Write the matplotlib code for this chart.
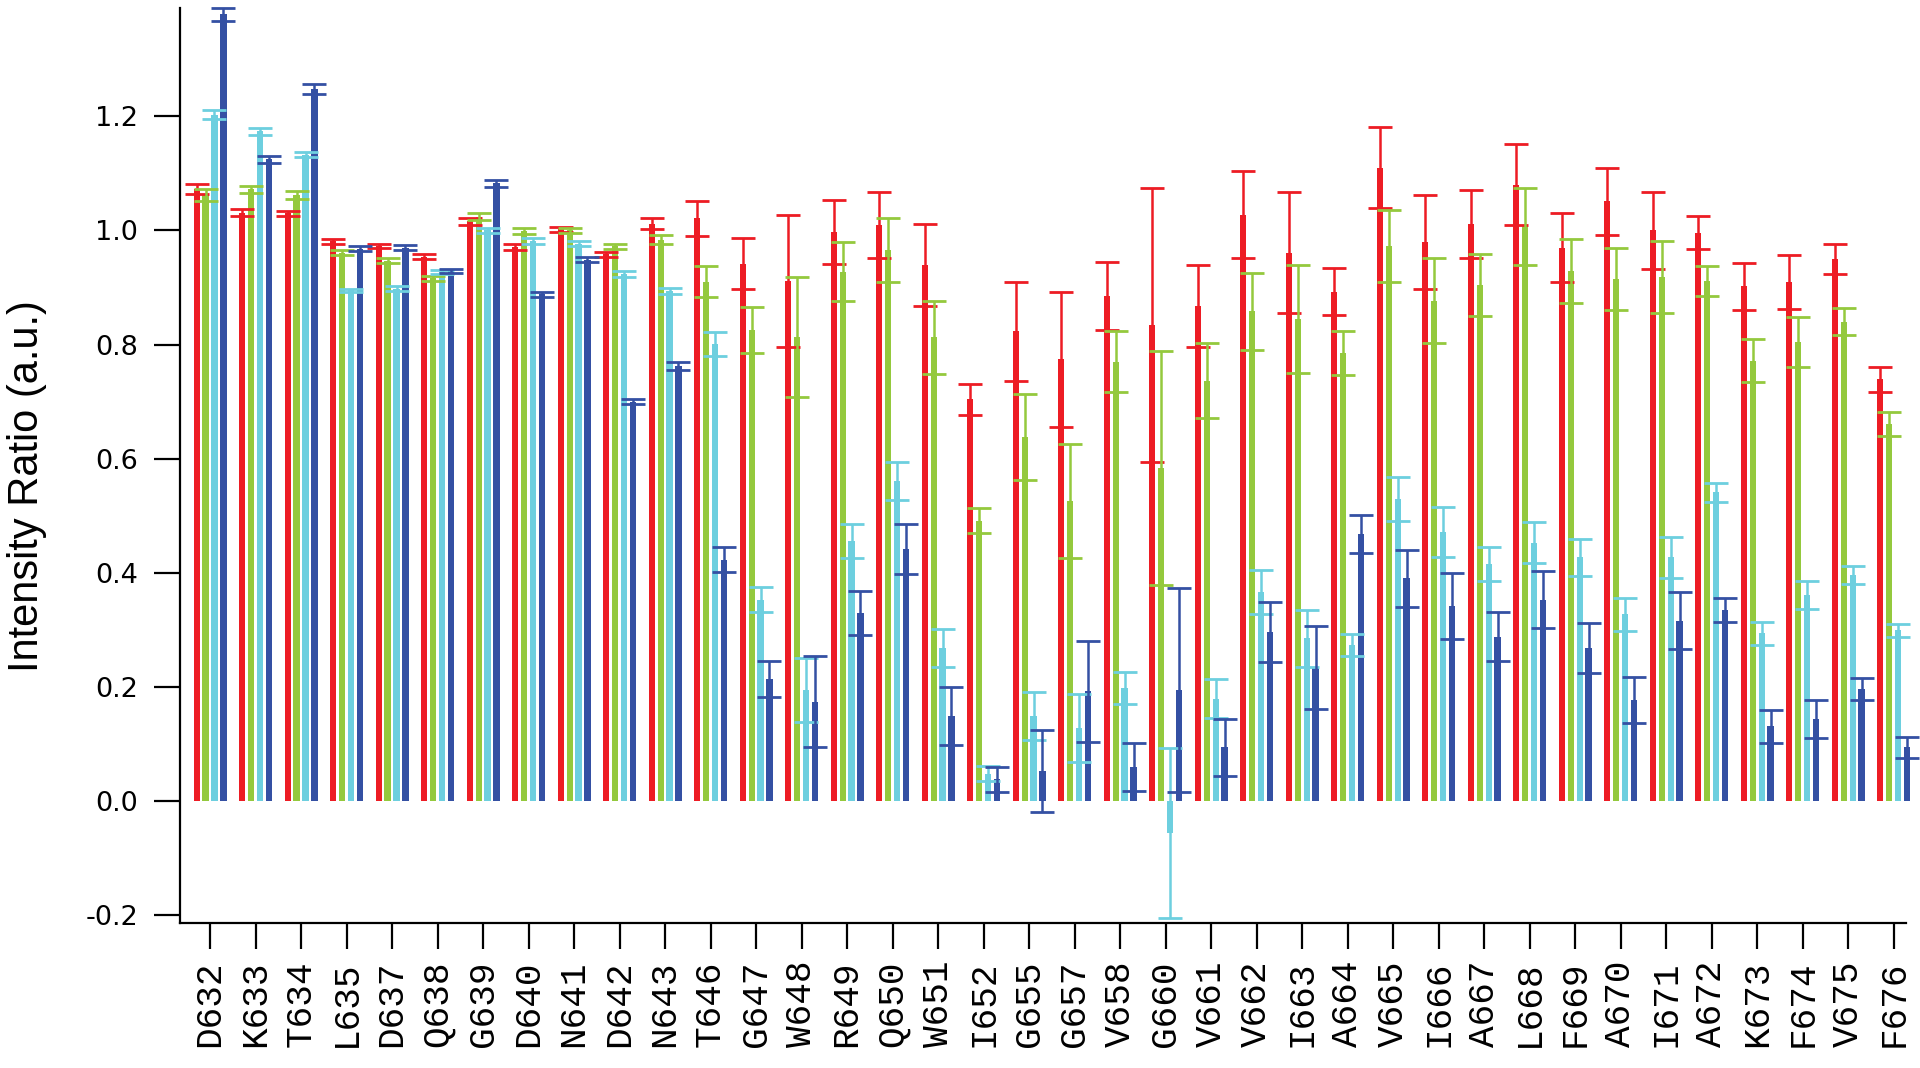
import matplotlib
matplotlib.use("Agg")
import matplotlib.pyplot as plt
import numpy as np

residues = ["D632", "K633", "T634", "L635", "D637", "Q638", "G639", "D640", "N641",
            "D642", "N643", "T646", "G647", "W648", "R649", "Q650", "W651", "I652",
            "G655", "G657", "V658", "G660", "V661", "V662", "I663", "A664", "V665",
            "I666", "A667", "L668", "F669", "A670", "I671", "A672", "K673", "F674",
            "V675", "F676"]

red_vals = [1.073, 1.031, 1.030, 0.981, 0.973, 0.954, 1.016, 0.971, 1.002, 0.958,
            1.012, 1.021, 0.942, 0.911, 0.997, 1.010, 0.939, 0.704, 0.823, 0.774,
            0.885, 0.834, 0.867, 1.028, 0.961, 0.893, 1.110, 0.980, 1.011, 1.080,
            0.970, 1.051, 1.000, 0.996, 0.902, 0.910, 0.950, 0.739]
red_err = [0.009, 0.006, 0.005, 0.004, 0.004, 0.004, 0.006, 0.005, 0.004, 0.005,
           0.009, 0.031, 0.045, 0.116, 0.056, 0.058, 0.072, 0.027, 0.086, 0.118,
           0.060, 0.240, 0.072, 0.077, 0.106, 0.041, 0.071, 0.082, 0.060, 0.071,
           0.061, 0.059, 0.067, 0.029, 0.041, 0.047, 0.027, 0.022]

green_vals = [1.062, 1.072, 1.063, 0.961, 0.947, 0.916, 1.024, 0.999, 1.000, 0.972,
              0.984, 0.910, 0.826, 0.813, 0.928, 0.966, 0.813, 0.491, 0.638, 0.526,
              0.770, 0.584, 0.737, 0.858, 0.845, 0.785, 0.973, 0.877, 0.904, 1.007,
              0.929, 0.915, 0.919, 0.911, 0.772, 0.805, 0.840, 0.660]
green_err = [0.010, 0.006, 0.007, 0.004, 0.004, 0.004, 0.006, 0.005, 0.005, 0.005,
             0.008, 0.027, 0.040, 0.105, 0.052, 0.056, 0.064, 0.022, 0.076, 0.100,
             0.053, 0.205, 0.065, 0.068, 0.094, 0.039, 0.063, 0.074, 0.054, 0.068,
             0.056, 0.054, 0.063, 0.026, 0.037, 0.044, 0.024, 0.021]

cyan_vals = [1.203, 1.174, 1.133, 0.895, 0.898, 0.927, 1.000, 0.982, 0.977, 0.924,
             0.894, 0.801, 0.353, 0.195, 0.455, 0.561, 0.268, 0.048, 0.149, 0.128,
             0.198, -0.056, 0.179, 0.366, 0.285, 0.273, 0.529, 0.471, 0.416, 0.453,
             0.427, 0.327, 0.427, 0.541, 0.294, 0.361, 0.396, 0.299]
cyan_err = [0.008, 0.006, 0.005, 0.003, 0.004, 0.004, 0.005, 0.005, 0.005, 0.005,
            0.006, 0.021, 0.022, 0.056, 0.030, 0.033, 0.034, 0.013, 0.042, 0.059,
            0.028, 0.149, 0.034, 0.038, 0.050, 0.019, 0.038, 0.044, 0.030, 0.036,
            0.033, 0.029, 0.036, 0.017, 0.020, 0.025, 0.015, 0.012]

blue_vals = [1.379, 1.125, 1.248, 0.968, 0.970, 0.929, 1.083, 0.888, 0.949, 0.700,
             0.763, 0.423, 0.214, 0.174, 0.329, 0.442, 0.149, 0.038, 0.052, 0.192,
             0.060, 0.195, 0.094, 0.296, 0.234, 0.468, 0.390, 0.341, 0.288, 0.353,
             0.268, 0.177, 0.316, 0.335, 0.131, 0.144, 0.196, 0.094]
blue_err = [0.011, 0.006, 0.008, 0.004, 0.004, 0.004, 0.006, 0.005, 0.005, 0.005,
            0.007, 0.022, 0.031, 0.080, 0.039, 0.044, 0.051, 0.022, 0.072, 0.088,
            0.042, 0.179, 0.050, 0.053, 0.073, 0.033, 0.050, 0.058, 0.043, 0.050,
            0.044, 0.041, 0.050, 0.021, 0.029, 0.033, 0.019, 0.018]

series = [(red_vals, red_err, "#ED1C24"),
          (green_vals, green_err, "#94C93D"),
          (cyan_vals, cyan_err, "#6DCFDF"),
          (blue_vals, blue_err, "#3450A3")]

x = np.arange(len(residues))
pitch = 0.196
width = 0.136

fig = plt.figure(figsize=(19.2, 10.68), dpi=100)
ax = fig.add_axes([180 / 1920, (1068 - 923) / 1068, 1726 / 1920, 915 / 1068])

for k, (vals, err, col) in enumerate(series):
    pos = x + (k - 1.5) * pitch
    bars = ax.bar(pos, vals, width=width, color=col, linewidth=0, clip_on=False)
    ax.errorbar(pos, vals, yerr=err, fmt="none", ecolor=col, elinewidth=1.8,
                capsize=8.6, capthick=2.0, clip_on=False)

ax.set_xlim(-0.66, 37.27)
ax.set_ylim(-0.214, 1.39)

for s in ("top", "right"):
    ax.spines[s].set_visible(False)
for s in ("left", "bottom"):
    ax.spines[s].set_linewidth(1.6)

ax.set_yticks([-0.2, 0.0, 0.2, 0.4, 0.6, 0.8, 1.0, 1.2])
ax.set_yticklabels([f"{v:.1f}" for v in [-0.2, 0.0, 0.2, 0.4, 0.6, 0.8, 1.0, 1.2]],
                   fontsize=19.5, family="DejaVu Sans")
ax.tick_params(axis="y", length=19, width=1.6, pad=11)

ax.set_xticks(x)
ax.set_xticklabels(residues, rotation=90, fontsize=26, family="Liberation Mono")
ax.tick_params(axis="x", length=19, width=1.6, pad=8)

ax.set_ylabel("Intensity Ratio (a.u.)", fontsize=30, family="Liberation Sans")
ax.yaxis.set_label_coords(-0.0887, 0.477)
ax.yaxis.label.set_verticalalignment("center")

fig.savefig("out.png", dpi=100)
